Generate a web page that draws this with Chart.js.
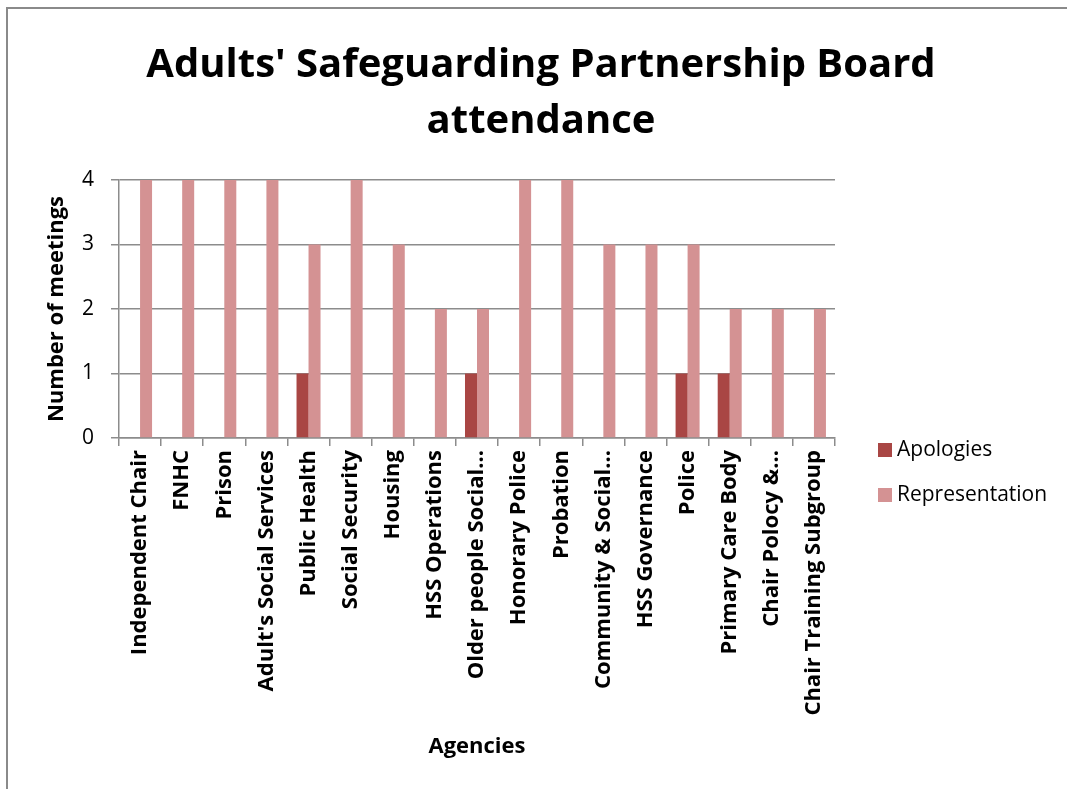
<!DOCTYPE html>
<html>
<head>
<meta charset="utf-8">
<script src="https://cdn.jsdelivr.net/npm/chart.js@4"></script>
<style>
    html, body { margin: 0; background: #fff; overflow: hidden; width: 1067px; height: 789px; }
    .edge { position: absolute; background: #8a8a8a; }
    .edge.top { left: 6px; top: 7px; width: 1061px; height: 2px; }
    .edge.left { left: 6px; top: 7px; width: 2px; height: 782px; }
    canvas { position: absolute; left: 0; top: 0; }
</style>
</head>
<body>
<div class="edge top"></div>
<div class="edge left"></div>
<canvas id="myChart" width="1067" height="789"></canvas>
<script>
const agencies = [
    "Independent Chair", "FNHC", "Prison", "Adult's Social Services", "Public Health",
    "Social Security", "Housing", "HSS Operations", "Older people Social\u2026",
    "Honorary Police", "Probation", "Community & Social\u2026", "HSS Governance",
    "Police", "Primary Care Body", "Chair Polocy &\u2026", "Chair Training Subgroup"
];
const apologies = [0, 0, 0, 0, 1, 0, 0, 0, 1, 0, 0, 0, 0, 1, 1, 0, 0];
const representation = [4, 4, 4, 4, 3, 4, 3, 2, 2, 4, 4, 3, 3, 3, 2, 2, 2];
const yTicks = [0, 1, 2, 3, 4];

const font = "'Open Sans', 'DejaVu Sans', sans-serif";
const gridGrey = "#8c8c8c";

// legend drawn beside the plot, below its middle like the original
const sideLegend = {
    id: "sideLegend",
    afterDraw(chart) {
        const c = chart.ctx;
        const x = chart.chartArea.right + 43;
        c.save();
        c.font = "21px " + font;
        c.textBaseline = "middle";
        c.textAlign = "left";
        chart.data.datasets.forEach((ds, i) => {
            const y = 450 + i * 45;
            c.fillStyle = ds.backgroundColor;
            c.fillRect(x, y - 7, 14, 14);
            c.fillStyle = "#000";
            c.fillText(ds.label, x + 19, y);
        });
        c.restore();
    }
};

const ctx = document.getElementById("myChart").getContext("2d");

const attendanceChart = new Chart(ctx, {
    type: "bar",
    data: {
        labels: agencies,
        datasets: [
            {
                label: "Apologies",
                data: apologies,
                backgroundColor: "#a94644",
                borderWidth: 0
            },
            {
                label: "Representation",
                data: representation,
                backgroundColor: "#d49293",
                borderWidth: 0
            }
        ]
    },
    plugins: [sideLegend],
    options: {
        responsive: false,
        animation: false,
        layout: {
            padding: { left: 44, right: 29, top: 0, bottom: 29 }
        },
        datasets: {
            bar: { categoryPercentage: 0.57, barPercentage: 1 }
        },
        plugins: {
            title: {
                display: true,
                text: ["Adults' Safeguarding Partnership Board", "attendance"],
                color: "#000",
                font: { family: font, size: 40, weight: "bold", lineHeight: 1.4 },
                padding: { top: 38, bottom: 30 }
            },
            legend: { display: false },
            tooltip: { enabled: false }
        },
        scales: {
            x: {
                grid: {
                    offset: true,
                    drawOnChartArea: false,
                    color: gridGrey,
                    lineWidth: 1.5,
                    tickLength: 8
                },
                border: { color: gridGrey, width: 1.5 },
                ticks: {
                    color: "#000",
                    font: { family: font, size: 22, weight: "bold" },
                    minRotation: 90,
                    maxRotation: 90,
                    autoSkip: false,
                    padding: 4
                },
                title: {
                    display: true,
                    text: "Agencies",
                    color: "#000",
                    font: { family: font, size: 22, weight: "bold" },
                    padding: { top: 10, bottom: 0 }
                },
                afterFit: function (scale) {
                    scale.height = 789 - 438 - 29;
                }
            },
            y: {
                min: 0,
                max: 4,
                afterBuildTicks: function (scale) {
                    scale.ticks = yTicks.map(v => ({ value: v }));
                },
                grid: {
                    color: gridGrey,
                    lineWidth: 1.5,
                    tickLength: 8
                },
                border: { color: gridGrey, width: 1.5 },
                ticks: {
                    color: "#000",
                    font: { family: font, size: 21 },
                    padding: 17
                },
                title: {
                    display: true,
                    text: "Number of meetings",
                    color: "#000",
                    font: { family: font, size: 22, weight: "bold" },
                    padding: { top: 0, bottom: 4 }
                },
                afterFit: function (scale) {
                    scale.width = 119 - 44;
                }
            },
            // empty right-hand axis: keeps room for the legend so the title stays centred on the page
            legendSpace: {
                type: "linear",
                position: "right",
                grid: { display: false },
                border: { display: false },
                ticks: { display: false },
                afterFit: function (scale) {
                    scale.width = 1067 - 29 - 835;
                }
            }
        }
    }
});
</script>
</body>
</html>
